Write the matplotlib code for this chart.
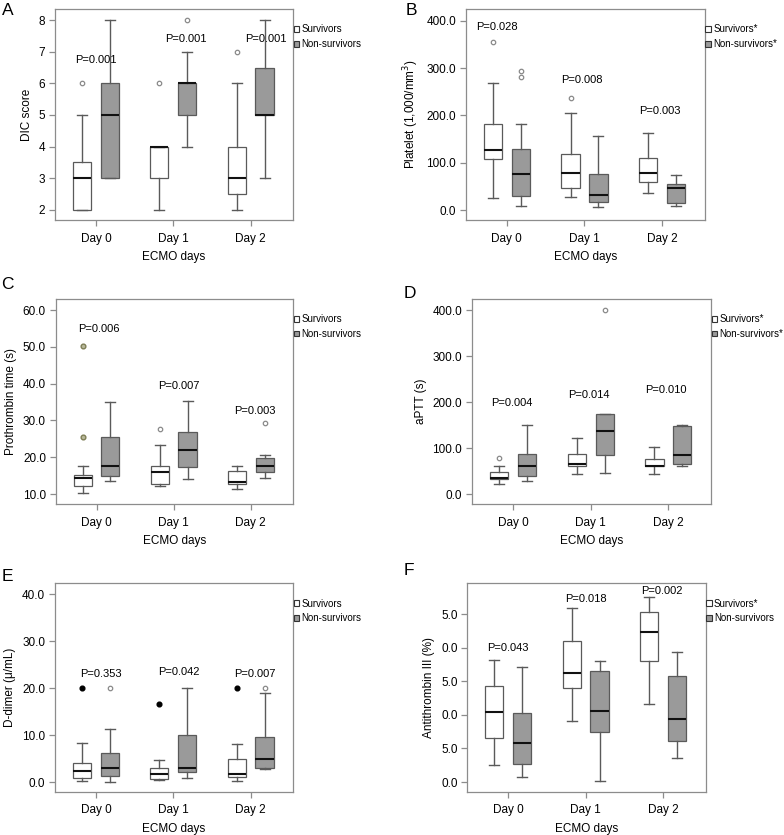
import numpy as np
import matplotlib
matplotlib.use('Agg')
import matplotlib.pyplot as plt
from matplotlib.patches import Patch

plt.rcParams['font.family'] = ['Liberation Sans', 'DejaVu Sans']

days = ['Day 0', 'Day 1', 'Day 2']

# each row: [whisker low, Q1, median, Q3, whisker high] for Day 0, 1, 2
dic_surv = [[2, 2, 3, 3.5, 5], [2, 3, 4, 4, 4], [2, 2.5, 3, 4, 6]]
dic_non = [[3, 3, 5, 6, 8], [4, 5, 6, 6, 7], [3, 5, 5, 6.5, 8]]
dic_surv_out = [[6], [6], [7]]
dic_non_out = [[], [8], []]
dic_p = ['P=0.001', 'P=0.001', 'P=0.001']
dic_p_y = [6.75, 7.4, 7.4]

plt_surv = [[26, 109, 128, 181, 269], [27, 46, 78, 119, 206], [36, 60, 78, 111, 163]]
plt_non = [[8, 30, 76, 130, 182], [6, 18, 32, 77, 156], [8, 14, 47, 56, 75]]
plt_surv_out = [[356], [236], []]
plt_non_out = [[282, 293], [], []]
plt_p = ['P=0.028', 'P=0.008', 'P=0.003']
plt_p_y = [386, 276, 209]

pt_surv = [[10.4, 12.3, 14.3, 15.2, 17.6], [12.1, 12.7, 16.1, 17.5, 23.2], [11.4, 12.8, 13.4, 16.2, 17.7]]
pt_non = [[13.5, 15.0, 17.6, 25.4, 35.0], [14.2, 17.3, 21.9, 27.0, 35.3], [14.5, 15.9, 17.5, 19.7, 20.6]]
pt_surv_out = [[25.5, 50.2], [27.8], []]
pt_non_out = [[], [], [29.2]]
pt_p = ['P=0.006', 'P=0.007', 'P=0.003']
pt_p_y = [54.9, 39.5, 32.5]

aptt_surv = [[22, 33, 35, 48, 60], [44, 62, 66, 87, 121], [44, 60, 62, 77, 102]]
aptt_non = [[29, 40, 61, 86, 150], [46, 85, 136, 173, 173], [61, 66, 85, 148, 150]]
aptt_surv_out = [[78], [], []]
aptt_non_out = [[], [400], []]
aptt_p = ['P=0.004', 'P=0.014', 'P=0.010']
aptt_p_y = [198, 215, 226]

dd_surv = [[0.3, 0.8, 2.4, 4.1, 8.3], [0.5, 0.7, 1.7, 3.1, 4.8], [0.3, 1.0, 1.8, 5.0, 8.1]]
dd_non = [[0.0, 1.3, 3.1, 6.3, 11.4], [0.8, 2.2, 2.9, 10.0, 20.0], [2.8, 3.0, 5.0, 9.6, 18.9]]
dd_surv_out = [[20], [16.6], [20]]
dd_non_out = [[20], [], [20]]
dd_p = ['P=0.353', 'P=0.042', 'P=0.007']
dd_p_y = [22.9, 23.4, 22.9]

at_surv = [[12.6, 32.9, 52.2, 71.8, 90.8], [45.3, 70.0, 81.4, 104.7, 129.7], [57.9, 90.3, 111.9, 126.7, 137.9]]
at_non = [[4.0, 13.4, 29.0, 51.5, 86.0], [1.0, 36.9, 53.2, 82.7, 89.9], [18.0, 30.9, 47.0, 79.0, 97.0]]
at_surv_out = [[], [], []]
at_non_out = [[], [], []]
at_p = ['P=0.043', 'P=0.018', 'P=0.002']
at_p_y = [100, 136, 142]

EDGE = '#5a5a5a'
FILL = '#9a9a9a'
SPINE = '#8c8c8c'

gray_out = dict(marker='o', markersize=3.2, markerfacecolor='none',
                markeredgecolor='#8a8a8a', markeredgewidth=0.9, linestyle='none')
olive = dict(marker='o', markersize=3.4, markerfacecolor='#b8b89a',
             markeredgecolor='#7d7d55', markeredgewidth=1.0, linestyle='none')
black = dict(marker='o', markersize=3.4, markerfacecolor='black',
             markeredgecolor='black', linestyle='none')


def stats(rows):
    res = []
    for r in rows:
        res.append(dict(whislo=r[0], q1=r[1], med=r[2], q3=r[3], whishi=r[4]))
    return res


def panel(rect, letter, letter_xy, surv, non, surv_out, non_out, pvals, p_y,
          ylim, yticks, ylabels, ylabel, legend_names, p_x,
          surv_style=(gray_out,) * 3, non_style=(gray_out,) * 3):
    ax = fig.add_axes(rect)
    x = np.arange(3)
    w = 0.235
    base = dict(boxprops=dict(color=EDGE, lw=0.9), whiskerprops=dict(color=EDGE, lw=1.0),
                capprops=dict(color=EDGE, lw=1.0), medianprops=dict(color='#111111', lw=1.5),
                patch_artist=True, widths=w, capwidths=w * 0.55, manage_ticks=False,
                showfliers=False)
    b1 = ax.bxp(stats(surv), positions=x - 0.18, **base)
    b2 = ax.bxp(stats(non), positions=x + 0.18, **base)
    for p in b1['boxes']:
        p.set_facecolor('white')
        p.set_edgecolor(EDGE)
    for p in b2['boxes']:
        p.set_facecolor(FILL)
        p.set_edgecolor(EDGE)
    # outliers
    for i in range(3):
        if surv_out[i]:
            ax.plot([x[i] - 0.18] * len(surv_out[i]), surv_out[i], **surv_style[i])
        if non_out[i]:
            ax.plot([x[i] + 0.18] * len(non_out[i]), non_out[i], **non_style[i])
    for xi, s, yy in zip(p_x, pvals, p_y):
        ax.text(xi, yy, s, ha='center', va='center', fontsize=8)
    ax.set_xlim(-0.53, 2.55)
    ax.set_ylim(*ylim)
    ax.set_xticks(x)
    ax.set_xticklabels(days, fontsize=8.5)
    ax.set_yticks(yticks)
    ax.set_yticklabels(ylabels, fontsize=8.5)
    ax.set_ylabel(ylabel, fontsize=8.5, labelpad=4)
    ax.set_xlabel('ECMO days', fontsize=8.5, labelpad=5)
    for s in ax.spines.values():
        s.set_color(SPINE)
        s.set_linewidth(0.9)
    ax.tick_params(color=SPINE, length=4, width=0.9, pad=3)
    ax.tick_params(axis='x', pad=5)
    handles = [Patch(facecolor='white', edgecolor='#333333', lw=0.8),
               Patch(facecolor=FILL, edgecolor='#333333', lw=0.8)]
    ax.legend(handles, legend_names, loc='upper left', bbox_to_anchor=(0.982, 0.95),
              frameon=False, fontsize=7, handlelength=0.55, handleheight=0.55,
              handletextpad=0.25, labelspacing=0.5, borderaxespad=0.1)
    fig.text(letter_xy[0], letter_xy[1], letter, fontsize=12.5, va='top', ha='left')
    return ax


fig = plt.figure(figsize=(7.84, 8.35), dpi=100)

plain = ['Survivors', 'Non-survivors']
star = ['Survivors*', 'Non-survivors*']

panel([0.070, 0.7365, 0.304, 0.2527], 'A', (0.002, 0.997), dic_surv, dic_non,
      dic_surv_out, dic_non_out, dic_p, dic_p_y, (1.68, 8.35), range(2, 9),
      [str(v) for v in range(2, 9)], 'DIC score', plain, [0.0, 1.16, 2.2])

panel([0.594, 0.7365, 0.305, 0.2527], 'B', (0.517, 0.997), plt_surv, plt_non,
      plt_surv_out, plt_non_out, plt_p, plt_p_y, (-21, 425), [0, 100, 200, 300, 400],
      ['0.0', '100.0', '200.0', '300.0', '400.0'], 'Platelet (1,000/mm$^3$)', star,
      [-0.13, 0.97, 1.97])

panel([0.071, 0.3964, 0.303, 0.2455], 'C', (0.002, 0.668), pt_surv, pt_non,
      pt_surv_out, pt_non_out, pt_p, pt_p_y, (7.3, 63), [10, 20, 30, 40, 50, 60],
      ['10.0', '20.0', '30.0', '40.0', '50.0', '60.0'], 'Prothrombin time (s)',
      plain, [0.03, 1.07, 2.05], surv_style=(olive, gray_out, gray_out))

panel([0.602, 0.3964, 0.305, 0.2455], 'D', (0.515, 0.657), aptt_surv, aptt_non,
      aptt_surv_out, aptt_non_out, aptt_p, aptt_p_y, (-21.7, 424), [0, 100, 200, 300, 400],
      ['0.0', '100.0', '200.0', '300.0', '400.0'], 'aPTT (s)', star,
      [-0.02, 0.98, 1.97])

panel([0.070, 0.0515, 0.304, 0.250], 'E', (0.002, 0.318), dd_surv, dd_non,
      dd_surv_out, dd_non_out, dd_p, dd_p_y, (-2.1, 42.3), [0, 10, 20, 30, 40],
      ['0.0', '10.0', '20.0', '30.0', '40.0'], 'D-dimer (\u03bc/mL)', plain,
      [0.07, 1.07, 2.05], surv_style=(black, black, black))

panel([0.596, 0.0515, 0.304, 0.250], 'F', (0.515, 0.326), at_surv, at_non,
      at_surv_out, at_non_out, at_p, at_p_y, (-7.4, 148), [0, 25, 50, 75, 100, 125],
      ['0.0', '5.0', '0.0', '5.0', '0.0', '5.0'], 'Antithrombin III (%)',
      ['Survivors*', 'Non-survivors'], [0.0, 1.0, 1.98])

fig.savefig('out.png', dpi=100)
